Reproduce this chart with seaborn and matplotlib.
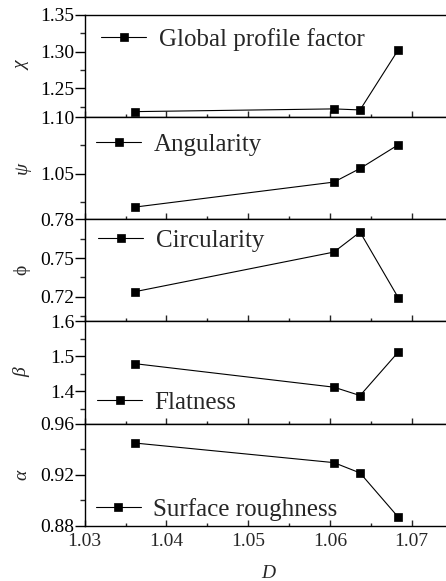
import matplotlib
matplotlib.use("Agg")
import matplotlib.pyplot as plt
import seaborn as sns
from matplotlib.ticker import MultipleLocator, FormatStrFormatter

# ---- data ----
D = [1.0362, 1.0605, 1.0637, 1.0684]
chi = [1.2185, 1.2222, 1.2208, 1.3030]
psi = [1.0207, 1.0427, 1.0547, 1.0757]
phi = [0.7240, 0.7546, 0.7701, 0.7190]
beta = [1.479, 1.412, 1.388, 1.513]
alpha = [0.9447, 0.9294, 0.9213, 0.8865]

series = [chi, psi, phi, beta, alpha]
names = ["Global profile factor", "Angularity", "Circularity", "Flatness", "Surface roughness"]
symbols = ["χ", "ψ", "ϕ", "β", "α"]
sym_style = ["italic", "italic", "normal", "italic", "italic"]

ylims = [(1.211, 1.35), (1.0099, 1.10), (0.7009, 0.78), (1.308, 1.60), (0.88, 0.96)]
majors = [0.05, 0.05, 0.03, 0.1, 0.04]
minors = [0.025, 0.025, 0.015, 0.05, 0.02]
fmts = ["%.2f", "%.2f", "%.2f", "%.1f", "%.2f"]
x_ticks = [1.03, 1.04, 1.05, 1.06, 1.07]

sns.set_theme(style="ticks")
plt.rcParams["font.family"] = ["Liberation Serif", "DejaVu Serif"]
plt.rcParams["axes.linewidth"] = 1.0

fig = plt.figure(figsize=(4.46, 5.81), dpi=100)
gs = fig.add_gridspec(5, 1, left=0.19, right=1.0143, top=0.9742, bottom=0.0952, hspace=0)

ax_w = 367.7
leg_x = [16.7, 11.7, 13.3, 12.3, 11.0]
leg_y = [0.764, 0.733, 0.794, 0.205, 0.163]

axes = []
for i in range(5):
    ax = fig.add_subplot(gs[i, 0], sharex=axes[0] if axes else None)
    axes.append(ax)
    sns.lineplot(x=D, y=series[i], ax=ax, color="black", marker="s",
                 markersize=5.5, mec="black", mew=0.5, linewidth=0.8,
                 label=names[i])
    ax.set_ylim(*ylims[i])
    ax.yaxis.set_major_locator(MultipleLocator(majors[i]))
    ax.yaxis.set_minor_locator(MultipleLocator(minors[i]))
    ax.yaxis.set_major_formatter(FormatStrFormatter(fmts[i]))
    ax.set_xlim(1.03, 1.075)
    ax.set_xticks(x_ticks)
    ax.xaxis.set_minor_locator(MultipleLocator(0.005))
    ax.tick_params(axis="y", which="major", direction="out", length=7, width=1.0,
                   pad=0.5, labelsize=14, colors="black")
    ax.tick_params(axis="y", which="minor", direction="out", length=3.6, width=1.0)
    ax.tick_params(axis="x", which="major", direction="in", length=4.5, width=1.0,
                   pad=5, labelsize=14)
    ax.tick_params(axis="x", which="minor", direction="in", length=2.4, width=1.0)
    ax.spines["right"].set_visible(False)
    for s in ax.spines.values():
        s.set_color("black")
    if i < 4:
        ax.tick_params(axis="x", labelbottom=False)
    ax.set_ylabel(symbols[i], fontsize=14, style=sym_style[i])
    ax.yaxis.set_label_coords(-0.1475, 0.5)
    ax.legend(loc="center left", bbox_to_anchor=(leg_x[i] / ax_w, leg_y[i]),
              frameon=False, borderaxespad=0, borderpad=0, handlelength=1.8,
              handletextpad=0.5, fontsize=18)
    ax.set_facecolor("white")

axes[-1].set_xlabel("D", fontsize=14, style="italic", labelpad=11)

fig.savefig("out.png", dpi=100)
